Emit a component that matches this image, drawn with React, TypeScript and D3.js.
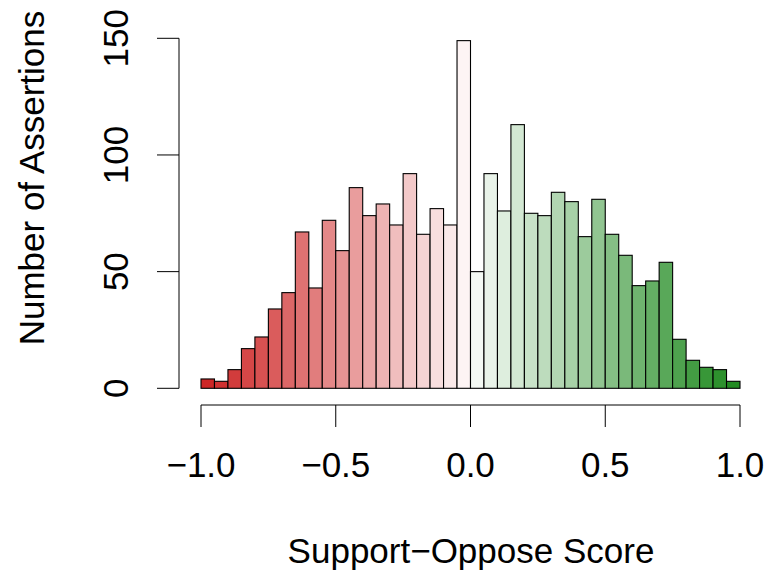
import React from "react";
import * as d3 from "d3";

const binStarts: number[] = d3.range(40).map((i) => -1 + i * 0.05);
const counts: number[] = [
  4, 3, 8, 17, 22, 34, 41, 67, 43, 72,
  59, 86, 74, 79, 70, 92, 66, 77, 70, 149,
  50, 92, 76, 113, 75, 74, 84, 80, 65, 81,
  66, 57, 44, 46, 54, 21, 12, 9, 8, 3,
];
const xTicks: number[] = [-1, -0.5, 0, 0.5, 1];
const yTicks: number[] = [0, 50, 100, 150];
const xTitle = "Support\u2212Oppose Score";
const yTitle = "Number of Assertions";

const W = 774;
const H = 571;
const FONT = "'Liberation Sans', Arial, Helvetica, sans-serif";

export default function App() {
  const x = d3.scaleLinear().domain([-1, 1]).range([201, 740]);
  const y = d3.scaleLinear().domain([0, 150]).range([388.3, 38.3]);
  const red = d3.interpolateRgb("#CD2626", "#ffffff");
  const green = d3.interpolateRgb("#ffffff", "#228B22");
  const color = (i: number) => (i < 20 ? red(i / 20) : green((i - 19) / 20));
  const fmt = (v: number) => (v < 0 ? "\u2212" : "") + Math.abs(v).toFixed(1);
  const axisY = 405;
  const axisX = 179;
  const tick = 22;

  return (
    <svg
      width={W}
      height={H}
      style={{ position: "absolute", left: 0, top: 0, background: "#fff" }}
      fontFamily={FONT}
    >
      <rect x={0} y={0} width={W} height={H} fill="#fff" />
      {counts.map((c, i) => (
        <rect
          key={i}
          x={x(binStarts[i])}
          y={y(c)}
          width={x(binStarts[i] + 0.05) - x(binStarts[i])}
          height={y(0) - y(c)}
          fill={color(i)}
          stroke="#000"
          strokeWidth={1.1}
        />
      ))}
      {/* x axis */}
      <line x1={x(-1)} x2={x(1)} y1={axisY} y2={axisY} stroke="#000" strokeWidth={1} />
      {xTicks.map((t) => (
        <g key={t}>
          <line x1={x(t)} x2={x(t)} y1={axisY} y2={axisY + tick} stroke="#000" strokeWidth={1} />
          <text x={x(t)} y={477} fontSize={35} textAnchor="middle" fill="#000">
            {fmt(t)}
          </text>
        </g>
      ))}
      {/* y axis */}
      <line x1={axisX} x2={axisX} y1={y(0)} y2={y(150)} stroke="#000" strokeWidth={1} />
      {yTicks.map((t) => (
        <g key={t}>
          <line x1={axisX - tick} x2={axisX} y1={y(t)} y2={y(t)} stroke="#000" strokeWidth={1} />
          <text
            x={128}
            y={y(t)}
            fontSize={35}
            textAnchor="middle"
            fill="#000"
            transform={`rotate(-90, 128, ${y(t)})`}
          >
            {t}
          </text>
        </g>
      ))}
      <text x={471} y={563} fontSize={35} textAnchor="middle" fill="#000">
        {xTitle}
      </text>
      <text
        x={44}
        y={178}
        fontSize={35}
        textAnchor="middle"
        fill="#000"
        transform="rotate(-90, 44, 178)"
      >
        {yTitle}
      </text>
    </svg>
  );
}
